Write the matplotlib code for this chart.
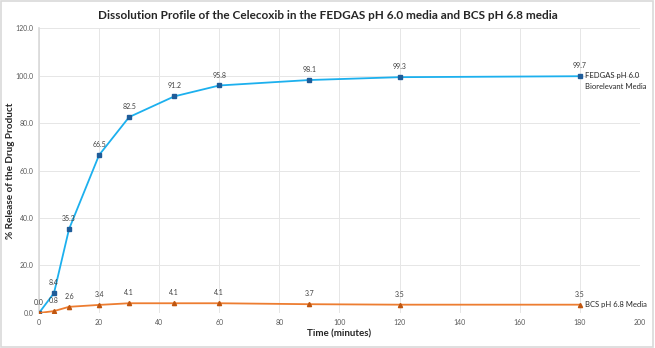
import matplotlib.pyplot as plt
from matplotlib.patches import Rectangle

plt.rcParams['font.family'] = ['Lato', 'DejaVu Sans']

# sampling times and % released
time_min = [0, 5, 10, 20, 30, 45, 60, 90, 120, 180]
fedgas = [0.0, 8.4, 35.3, 66.5, 82.5, 91.2, 95.8, 98.1, 99.3, 99.7]
bcs = [0.0, 0.8, 2.6, 3.4, 4.1, 4.1, 4.1, 3.7, 3.5, 3.5]

fig = plt.figure(figsize=(6.55, 3.48), dpi=100)
ax = fig.add_axes([0.0595, 0.1006, 0.9175, 0.8189])

ax.plot(time_min, fedgas, color='#1CB0EE', lw=1.3, marker='s', ms=3,
        mfc='#1F5C99', mec='#1F5C99', zorder=3)
ax.plot(time_min, bcs, color='#ED7D31', lw=1.3, marker='^', ms=3,
        mfc='#C0560F', mec='#C0560F', zorder=3)

# value labels
for t, v in zip(time_min, fedgas):
    ax.annotate(f'{v:.1f}', (t, v), xytext=(0, 5), textcoords='offset points',
                ha='center', va='bottom', fontsize=5, color='#404040')
for t, v in zip(time_min[1:], bcs[1:]):
    ax.annotate(f'{v:.1f}', (t, v), xytext=(0, 5), textcoords='offset points',
                ha='center', va='bottom', fontsize=5, color='#404040')

# series names at the line ends
ax.annotate('FEDGAS pH 6.0\nBiorelevant Media', (time_min[-1], fedgas[-1]),
            xytext=(4, 3), textcoords='offset points', ha='left', va='top',
            fontsize=5.5, color='#262626', linespacing=1.7)
ax.annotate('BCS pH 6.8 Media', (time_min[-1], bcs[-1]), xytext=(4, 0),
            textcoords='offset points', ha='left', va='center',
            fontsize=5.5, color='#262626')

ax.set_xlim(0, 200)
ax.set_ylim(0, 120)
ax.set_xticks(range(0, 201, 20))
ax.set_yticks(range(0, 121, 20))
ax.set_yticklabels([f'{v:.1f}' for v in range(0, 121, 20)])
ax.tick_params(labelsize=5, colors='#595959', length=0, pad=4)
ax.grid(True, color='#E6E6E6', lw=0.7)
ax.set_axisbelow(True)
for s in ['top', 'right', 'bottom']:
    ax.spines[s].set_visible(False)
ax.spines['left'].set_color('#D9D9D9')
ax.spines['left'].set_linewidth(1.2)

ax.set_xlabel('Time (minutes)', fontsize=7, fontweight='bold', color='#262626', labelpad=3)
ax.set_ylabel('% Release of the Drug Product', fontsize=7.2, fontweight='bold',
              color='#262626')
ax.yaxis.set_label_coords(-0.04, 0.5)
fig.suptitle('Dissolution Profile of the Celecoxib in the FEDGAS pH 6.0 media and BCS pH 6.8 media',
             fontsize=8.5, fontweight='bold', color='#262626', y=0.97)

fig.patches.append(Rectangle((0.002, 0.003), 0.995, 0.993, transform=fig.transFigure,
                             fill=False, ec='#D9D9D9', lw=1.2))

fig.savefig('out.png', dpi=100)
